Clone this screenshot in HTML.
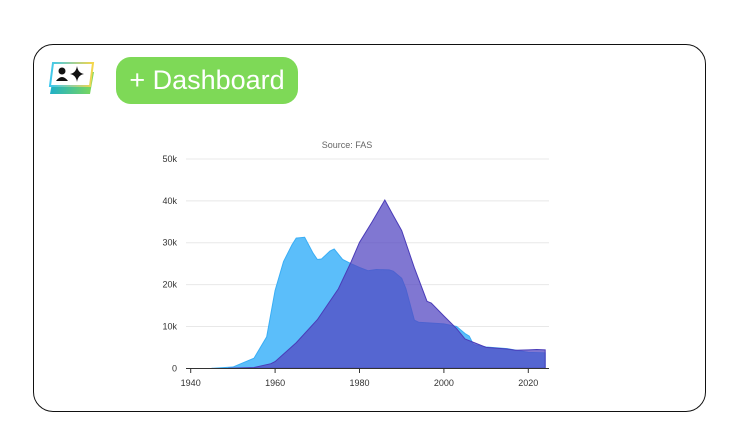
<!DOCTYPE html>
<html><head><meta charset="utf-8"><style>
body{margin:0;width:731px;height:425px;background:#fff;position:relative;overflow:hidden;font-family:"Liberation Sans",sans-serif}
.frame{position:absolute;left:33px;top:44px;width:671px;height:366px;border:1px solid #111;border-radius:20px}
.btn{position:absolute;left:116px;top:57px;width:182px;height:47px;background:#7ed957;border-radius:15px;color:#fff;font-size:27px;line-height:47px;text-align:center}
</style></head><body>
<div class="frame"></div>
<svg style="position:absolute;left:48px;top:60px" width="50" height="38" viewBox="0 0 50 38">
<defs><linearGradient id="g1" x1="0" x2="1"><stop offset="0" stop-color="#1fb0c8"/><stop offset="1" stop-color="#7ed957"/></linearGradient>
<linearGradient id="g2" x1="0" x2="1"><stop offset="0" stop-color="#3ac8f0"/><stop offset="1" stop-color="#f5d64a"/></linearGradient></defs>
<polygon points="6,12 46,12 42,34 2,34" fill="url(#g1)"/>
<polygon points="5,3 45,3 42,26 2,26" fill="#fff" stroke="url(#g2)" stroke-width="2"/>
<circle cx="14" cy="11" r="3.5" fill="#111"/><path d="M8,21 q6,-8 12,0 z" fill="#111"/>
<path d="M29,6 q1,7 7,8 q-6,1 -7,8 q-1,-7 -7,-8 q6,-1 7,-8z" fill="#111"/>
</svg>
<div class="btn">+ Dashboard</div>
<svg id="chart" style="position:absolute;left:0;top:0" width="731" height="425"></svg>
<script>
const yTicks=[0,10000,20000,30000,40000,50000];
const yTickLabels=["0","10k","20k","30k","40k","50k"];
const xTicks=[1940,1960,1980,2000,2020];
const usYears=[1945,1950,1955,1958,1960,1962,1964,1965,1967,1969,1970,1971,1973,1974,1976,1978,1980,1982,1984,1987,1988,1990,1991,1993,1994,2000,2003,2005,2006,2007,2010,2015,2020,2024];
const usValues=[2,300,2400,7500,18600,25500,29500,31100,31300,27500,26000,26100,28000,28500,26000,25000,24100,23300,23600,23500,23200,21500,19000,11500,11000,10600,10000,8300,7700,5700,5100,4700,3800,3700];
const ussrYears=[1949,1955,1959,1960,1965,1970,1975,1978,1980,1983,1986,1988,1990,1993,1996,1997,2000,2003,2005,2010,2015,2017,2020,2022,2024];
const ussrValues=[1,200,1100,1600,6100,11600,19000,25400,30100,35000,40200,36500,32900,24000,16000,15600,12500,9500,7000,5000,4600,4300,4400,4500,4400];
const svg=document.getElementById('chart');const NS='http://www.w3.org/2000/svg';
const X=y=>190.7+(y-1940)*4.22;const Y=v=>368.3-v/50000*209.3;
function mk(t,a,p){const e=document.createElementNS(NS,t);for(const k in a)e.setAttribute(k,a[k]);(p||svg).appendChild(e);return e;}
const bg=mk('rect',{x:155,y:135,width:400,height:257,fill:'#fff'});


const st=mk('text',{x:347,y:148,'font-size':9,fill:'#666','text-anchor':'middle'});st.textContent='Source: FAS';


yTicks.forEach((v,i)=>{
 if(i>0){const g=mk('line',{x1:186,x2:549,y1:Y(v),y2:Y(v),stroke:'#e8e8e8','stroke-width':1});
 
 }
 const t=mk('text',{x:177,y:Y(v)+3,'font-size':9,fill:'#333','text-anchor':'end'});t.textContent=yTickLabels[i];
 
 
});
function area(ys,vs,fill,op,stroke,name){
 let d='M'+X(ys[0])+','+Y(0);ys.forEach((y,i)=>d+=' L'+X(y)+','+Y(vs[i]));d+=' L'+X(ys[ys.length-1])+','+Y(0)+'Z';
 const p=mk('path',{d:d,fill:fill,'fill-opacity':op,stroke:stroke,'stroke-width':1});
 
 
}
area(usYears,usValues,'#5bbefa',1,'#3aaef5','us-area');
area(ussrYears,ussrValues,'#5348c2',0.74,'#4a3cb8','ussr-area');
const ax=mk('line',{x1:186,x2:549,y1:368.5,y2:368.5,stroke:'#333','stroke-width':1});


xTicks.forEach(y=>{
 const tk=mk('line',{x1:X(y),x2:X(y),y1:368,y2:373,stroke:'#333'});
 
 
 const t=mk('text',{x:X(y),y:386,'font-size':9,fill:'#333','text-anchor':'middle'});t.textContent=y;
 
 
});
</script>
</body></html>
